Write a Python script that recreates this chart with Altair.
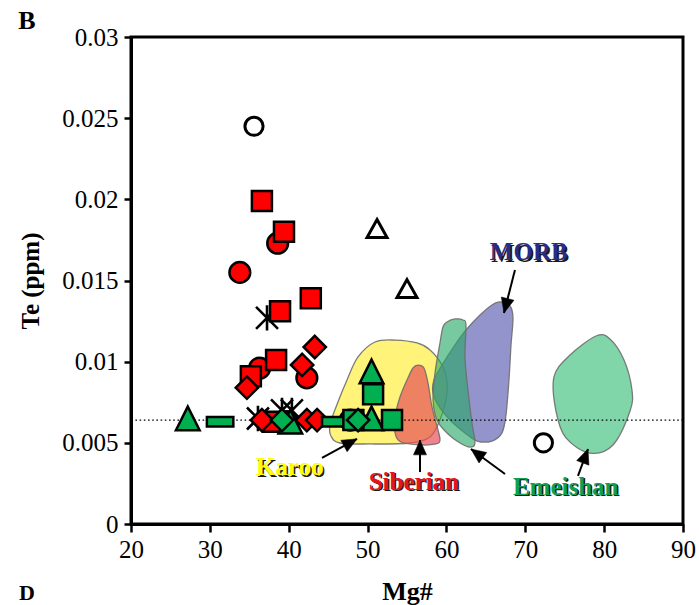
import math
import altair as alt
import pandas as pd

# ---------------------------------------------------------------- layout
W, H = 552, 487
X_DOMAIN = [20, 90]
Y_DOMAIN = [0, 0.03]
SERIF = "Liberation Serif"
DETECTION_LIMIT = 0.0064

# ---------------------------------------------------------------- samples
open_circle_x = [35.6, 72.3]
open_circle_y = [0.0245, 0.0050]

open_tri_x = [51.2, 55.0]
open_tri_y = [0.0182, 0.0145]

star_x = [37.25, 39.15, 36.1, 40.4]
star_y = [0.0127, 0.0070, 0.0065, 0.0070]

red_circle_x = [33.8, 38.6, 36.3, 42.3, 47.8, 39.8]
red_circle_y = [0.0155, 0.0173, 0.0096, 0.0090, 0.0064, 0.0063]

red_square_x = [36.6, 39.4, 42.8, 38.9, 38.4, 35.2, 38.0]
red_square_y = [0.0199, 0.0180, 0.0139, 0.0131, 0.0101, 0.0091, 0.0063]

red_diamond_x = [34.7, 43.3, 41.7, 36.6, 42.3, 43.6]
red_diamond_y = [0.0084, 0.0109, 0.0098, 0.0064, 0.0064, 0.0064]

green_dash_x = [31.3, 45.9]
green_dash_y = [0.0063, 0.0063]

green_square_x = [50.7, 48.2, 53.1]
green_square_y = [0.0080, 0.0064, 0.0064]

green_tri_x = [27.2, 50.5, 50.5, 40.2]
green_tri_y = [0.0065, 0.0094, 0.0065, 0.0063]

green_diamond_x = [39.15, 48.8]
green_diamond_y = [0.0064, 0.0064]

# ---------------------------------------------------------------- fields
karoo_x = [50.94, 53.48, 56.27, 57.92, 59.44, 60.07, 59.94, 59.18, 57.92, 55.38,
           50.31, 46.50, 45.36, 45.23, 46.00, 47.39, 48.79]
karoo_y = [0.01121, 0.01133, 0.01115, 0.01072, 0.00979, 0.00875, 0.00764, 0.00641,
           0.00536, 0.00499, 0.00493, 0.00499, 0.00542, 0.00610, 0.00721, 0.00887, 0.01029]

siberian_x = [56.39, 57.15, 57.66, 58.17, 58.93, 59.18, 58.68, 56.65, 54.24, 53.48,
              53.48, 54.11, 55.00, 55.76]
siberian_y = [0.00979, 0.00961, 0.00869, 0.00721, 0.00579, 0.00517, 0.00493, 0.00487,
              0.00505, 0.00561, 0.00659, 0.00782, 0.00887, 0.00961]

morb_x = [66.79, 68.06, 68.44, 68.19, 67.93, 67.55, 67.04, 65.78, 63.88, 62.35,
          60.71, 59.18, 58.30, 58.42, 59.44, 61.09, 62.48, 64.26, 65.78]
morb_y = [0.01368, 0.01343, 0.01269, 0.01103, 0.00887, 0.00671, 0.00561, 0.00511,
          0.00511, 0.00561, 0.00628, 0.00715, 0.00807, 0.00887, 0.00979, 0.01103,
          0.01195, 0.01287, 0.01349]

emeishan_a_x = [60.07, 61.09, 62.10, 62.48, 62.35, 62.73, 63.24, 63.62, 62.99, 61.72,
                60.07, 58.80, 58.30, 58.55, 59.18, 59.56]
emeishan_a_y = [0.01244, 0.01263, 0.01257, 0.01226, 0.01029, 0.00825, 0.00622, 0.00499,
                0.00474, 0.00499, 0.00561, 0.00641, 0.00764, 0.00930, 0.01115, 0.01214]

emeishan_b_x = [78.97, 80.74, 82.52, 83.53, 83.28, 81.12, 78.20, 75.16, 73.89, 73.64, 75.54]
emeishan_b_y = [0.01158, 0.01140, 0.01010, 0.00825, 0.00696, 0.00487, 0.00437, 0.00530,
                0.00696, 0.00906, 0.01035]

# ---------------------------------------------------------------- labels and arrows
label_text = ["Karoo", "Siberian", "Emeishan", "MORB"]
label_x = [40.15, 55.87, 75.13, 70.44]
label_y = [0.00351, 0.00259, 0.00228, 0.01675]
label_color = ["#FFFF00", "#E8141C", "#12A050", "#2A2C86"]

arrow_tail_x = [44.22, 56.65, 67.43, 76.68, 68.69]
arrow_tail_y = [0.00407, 0.00320, 0.00308, 0.00296, 0.01565]
arrow_tip_x = [48.66, 56.65, 63.11, 77.95, 67.30]
arrow_tip_y = [0.00524, 0.00517, 0.00462, 0.00462, 0.01300]

# ---------------------------------------------------------------- encodings
X = alt.X(
    "x:Q",
    scale=alt.Scale(domain=X_DOMAIN, nice=False, zero=False),
    axis=alt.Axis(
        values=list(range(20, 91, 10)), grid=False, labelFlush=False,
        tickSize=8, tickWidth=2.5, tickColor="black",
        domainColor="black", domainWidth=3,
        labelFont=SERIF, labelFontSize=25, labelColor="black", labelPadding=5,
        title="Mg#", titleFont=SERIF, titleFontSize=26, titleFontWeight="bold",
        titleColor="black", titleX=W / 2, titleY=67, titleBaseline="middle",
    ),
)
Y = alt.Y(
    "y:Q",
    scale=alt.Scale(domain=Y_DOMAIN, nice=False, zero=False),
    axis=alt.Axis(
        values=[0, 0.005, 0.01, 0.015, 0.02, 0.025, 0.03], format="~g", grid=False,
        labelFlush=False, tickSize=7, tickWidth=2.5, tickColor="black",
        domainColor="black", domainWidth=3,
        labelFont=SERIF, labelFontSize=25, labelColor="black", labelPadding=6,
        title="Te (ppm)", titleFont=SERIF, titleFontSize=25, titleFontWeight="bold",
        titleColor="black", titleX=-101, titleY=H / 2, titleAngle=270,
        titleBaseline="middle", titleAlign="center",
    ),
)
X2 = alt.X2("x2:Q")
Y2 = alt.Y2("y2:Q")


def frame(xs, ys):
    return pd.DataFrame({"x": xs, "y": ys})


def field(xs, ys, fill, alpha):
    df = frame(xs, ys)
    df["i"] = range(len(df))
    return alt.Chart(df).mark_line(
        interpolate="cardinal-closed", fill=fill, fillOpacity=alpha,
        stroke="#6E6E6E", strokeWidth=1.3, strokeOpacity=0.9,
    ).encode(x=X, y=Y, order="i:Q")


def markers(xs, ys, shape, size, fill, stroke="black", sw=2.5, filled=True):
    kw = dict(shape=shape, size=size, stroke=stroke, strokeWidth=sw, opacity=1,
              filled=filled)
    if filled:
        kw["fill"] = fill
    return alt.Chart(frame(xs, ys)).mark_point(**kw).encode(x=X, y=Y)


TRI = "M0,-1L1,1L-1,1Z"
OPEN_TRI = "M0,-0.9L1,0.9L-1,0.9Z"
DASH = "M-1,-0.36L1,-0.36L1,0.36L-1,0.36Z"
STAR = "M-1,-1L1,1M-1,1L1,-1M0,-1.15L0,1.15"
HEAD = "M0,0L0.55,1.25L-0.55,1.25Z"

RED = "#FF0000"
GREEN = "#00B050"

layers = [
    field(karoo_x, karoo_y, "#FFF157", 0.8),
    field(siberian_x, siberian_y, "#E8505A", 0.7),
    field(emeishan_b_x, emeishan_b_y, "#3CC07A", 0.65),
    field(morb_x, morb_y, "#6B6BB8", 0.72),
    field(emeishan_a_x, emeishan_a_y, "#27A865", 0.62),
]

# detection limit
layers.append(
    alt.Chart(pd.DataFrame({"y": [DETECTION_LIMIT]})).mark_rule(
        color="black", strokeWidth=1.4, strokeDash=[1.6, 2.6]
    ).encode(y=Y)
)

# arrows: shafts and heads
px_per_x = W / (X_DOMAIN[1] - X_DOMAIN[0])
px_per_y = H / (Y_DOMAIN[1] - Y_DOMAIN[0])
arrow_angle = []
for tx, ty, hx, hy in zip(arrow_tail_x, arrow_tail_y, arrow_tip_x, arrow_tip_y):
    dx = (hx - tx) * px_per_x          # screen x, to the right
    dy = -(hy - ty) * px_per_y         # screen y, downwards
    # the head path points up (-y); symbol angles turn it clockwise
    arrow_angle.append((math.degrees(math.atan2(dx, -dy)) + 360) % 360)

arrows = pd.DataFrame({
    "x": arrow_tail_x, "y": arrow_tail_y,
    "x2": arrow_tip_x, "y2": arrow_tip_y, "angle": arrow_angle,
})
layers.append(
    alt.Chart(arrows).mark_rule(color="black", strokeWidth=2).encode(
        x=X, y=Y, x2=X2, y2=Y2)
)
heads = pd.DataFrame({"x": arrow_tip_x, "y": arrow_tip_y, "angle": arrow_angle})
layers.append(
    alt.Chart(heads).mark_point(shape=HEAD, size=560, filled=True, fill="black",
                                stroke="black", strokeWidth=0.5, opacity=1).encode(
        x=X, y=Y, angle=alt.Angle("angle:Q", scale=None))
)

# sample markers
layers += [
    markers(star_x, star_y, STAR, 484, None, sw=2.6, filled=False),
    markers(red_circle_x, red_circle_y, "circle", 430, RED),
    markers(red_square_x, red_square_y, "square", 400, RED),
    markers(red_diamond_x, red_diamond_y, "diamond", 500, RED),
    markers(green_dash_x, green_dash_y, DASH, 700, GREEN),
    markers(green_tri_x, green_tri_y, TRI, 560, GREEN),
    markers(green_square_x, green_square_y, "square", 400, GREEN),
    markers(green_diamond_x, green_diamond_y, "diamond", 500, GREEN),
    markers(open_circle_x, open_circle_y, "circle", 330, "white", sw=3),
    markers(open_tri_x, open_tri_y, OPEN_TRI, 400, "white", sw=3),
]

# field labels with a dark drop shadow
labels = pd.DataFrame({"x": label_x, "y": label_y, "t": label_text, "c": label_color})
text_kw = dict(font=SERIF, fontSize=25, fontWeight="bold", align="center",
               baseline="middle")
layers.append(
    alt.Chart(labels).mark_text(dx=1.5, dy=1.5, color="#1A1A1A", **text_kw).encode(
        x=X, y=Y, text="t:N")
)
layers.append(
    alt.Chart(labels).mark_text(**text_kw).encode(
        x=X, y=Y, text="t:N", color=alt.Color("c:N", scale=None))
)

# panel letters
panel = pd.DataFrame({"t": ["B"]})
layers.append(
    alt.Chart(panel).mark_text(font=SERIF, fontSize=26, fontWeight="bold",
                               align="center", baseline="middle", color="black").encode(
        x=alt.value(-104), y=alt.value(-16), text="t:N")
)
panel_d = pd.DataFrame({"t": ["D"]})
layers.append(
    alt.Chart(panel_d).mark_text(font=SERIF, fontSize=22, fontWeight="bold",
                                 align="center", baseline="bottom", color="black").encode(
        x=alt.value(-104), y=alt.value(568), text="t:N")
)

chart = (
    alt.layer(*layers)
    .properties(
        width=W, height=H,
        autosize=alt.AutoSizeParams(type="none"),
        padding={"left": 131, "top": 37, "right": 16, "bottom": 81},
        background="white",
    )
    .configure_view(stroke="black", strokeWidth=3)
)

chart.save("out.html", embed_options={"renderer": "svg", "actions": False})
